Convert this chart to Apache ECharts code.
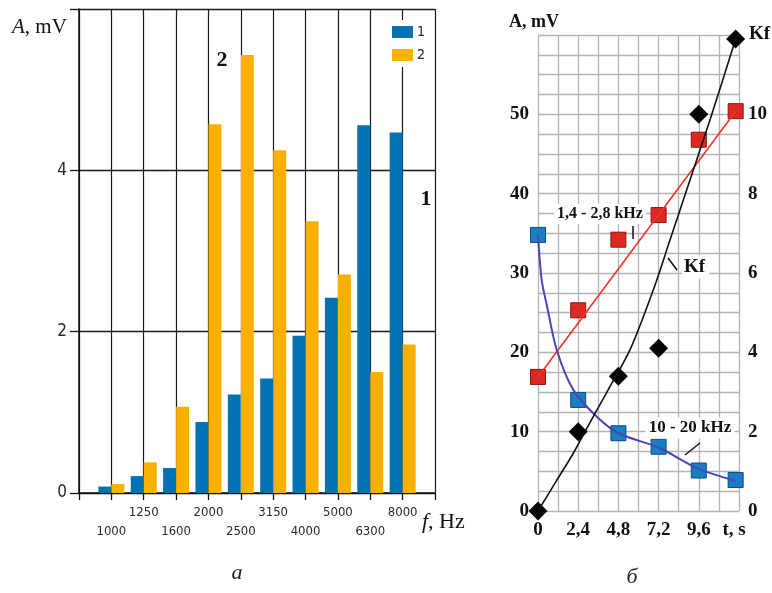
<!DOCTYPE html>
<html>
<head>
<meta charset="utf-8">
<script src="https://cdn.jsdelivr.net/npm/echarts@6/dist/echarts.min.js"></script>
<style>
  html, body { margin: 0; padding: 0; background: #fff; }
  #chart { width: 772px; height: 593px; }
</style>
</head>
<body>
<div id="chart"></div>
<script>
// ---- Panel a: spectrum amplitude per 1/3-octave band ----
const freqLabels = ['1000', '1250', '1600', '2000', '2500', '3150', '4000', '5000', '6300', '8000'];
const spectrum1 = [0.08, 0.21, 0.31, 0.88, 1.22, 1.42, 1.95, 2.42, 4.56, 4.47];
const spectrum2 = [0.11, 0.38, 1.07, 4.57, 5.43, 4.25, 3.37, 2.71, 1.50, 1.84];
const ampTickLabels = [0, 2, 4];

// ---- Panel б: amplitude and Kf versus time ----
const tTicks = [0, 2.4, 4.8, 7.2, 9.6];
const tTickLabels = ['0', '2,4', '4,8', '7,2', '9,6'];
const tPoints = [0, 2.4, 4.8, 7.2, 9.6, 11.8];
const lowBandA = [16.9, 25.3, 34.2, 37.3, 46.8, 50.4];   // 1,4 - 2,8 kHz
const highBandA = [34.8, 14.0, 9.8, 8.1, 5.1, 3.9];      // 10 - 20 kHz
const kfValues = [0, 2.0, 3.4, 4.1, 10.0, 11.9];
const lowBandFit = [[0, 16.9], [11.8, 50.4]];
const highBandCurve = [[0, 34.8], [0.22, 29.1], [0.52, 26.0], [1.12, 20.3], [2.1, 15.3],
  [3.5, 11.9], [4.8, 9.8], [7.2, 8.0], [9.6, 5.3], [11.8, 3.8]];
const kfCurve = [[0, 0], [1.07, 0.74], [2.1, 1.45], [3.1, 2.23], [4.18, 3.05], [5.49, 4.06],
  [6.88, 5.57], [7.88, 6.83], [8.88, 8.1], [10.3, 9.9], [11.8, 11.9]];
const aTickLabels = [0, 10, 20, 30, 40, 50];
const kfTickLabels = [0, 2, 4, 6, 8, 10];

const narrow = "'Liberation Sans Narrow','Arial Narrow','DejaVu Sans Condensed','Liberation Sans',sans-serif";
const serif = "'Liberation Serif','Times New Roman',serif";
const blue = '#0272b3';
const orange = '#f9b002';
const gridGray = '#b3b3b3';

const chart = echarts.init(document.getElementById('chart'), null, { renderer: 'canvas' });

const boldSerifLabel = { fontFamily: serif, fontWeight: 'bold', fontSize: 19, color: '#111' };

chart.setOption({
  animation: false,
  backgroundColor: '#fff',
  grid: [
    { left: 79, top: 9, width: 356, height: 484 },
    { left: 538, top: 35, width: 201, height: 476 }
  ],
  legend: {
    data: ['1', '2'],
    orient: 'vertical',
    left: 388,
    top: 20,
    itemWidth: 21,
    itemHeight: 12,
    itemGap: 9,
    icon: 'rect',
    backgroundColor: '#fff',
    padding: [5, 6, 5, 4],
    textStyle: { fontFamily: narrow, fontSize: 14, color: '#2b2430', padding: [0, 0, 0, -1] }
  },
  xAxis: [
    {
      gridIndex: 0, type: 'value', min: 0, max: 11, interval: 1,
      axisLine: { show: true, lineStyle: { color: '#111', width: 1.5 } },
      axisTick: { show: true, length: 7, lineStyle: { color: '#111', width: 1.3 } },
      splitLine: { show: true, lineStyle: { color: '#1a1a1a', width: 1.2 } },
      axisLabel: {
        margin: 10,
        formatter: function (v) {
          const i = Math.round(v) - 1;
          if (i < 0 || i >= freqLabels.length) return '';
          return i % 2 === 1 ? '{u|' + freqLabels[i] + '}' : '{l|' + freqLabels[i] + '}';
        },
        rich: {
          u: { fontFamily: narrow, fontSize: 13, color: '#2e2536', lineHeight: 19 },
          l: { fontFamily: narrow, fontSize: 13, color: '#2e2536', lineHeight: 57 }
        }
      }
    },
    {
      gridIndex: 1, type: 'value', min: 0, max: 12, interval: 1.2,
      axisLine: { show: false },
      axisTick: { show: false },
      splitLine: { show: true, lineStyle: { color: gridGray, width: 1.3 } },
      axisLabel: Object.assign({
        margin: 10,
        formatter: function (v) {
          for (let k = 0; k < tTicks.length; k++) {
            if (Math.abs(v - tTicks[k]) < 1e-6) return tTickLabels[k];
          }
          return '';
        }
      }, boldSerifLabel)
    }
  ],
  yAxis: [
    {
      gridIndex: 0, type: 'value', min: 0, max: 6, interval: 2,
      axisLine: { show: true, lineStyle: { color: '#111', width: 1.5 } },
      axisTick: { show: true, length: 9, lineStyle: { color: '#111', width: 1.3 } },
      splitLine: { show: true, lineStyle: { color: '#1a1a1a', width: 1.3 } },
      axisLabel: {
        margin: 12, fontFamily: narrow, fontSize: 17, color: '#2e2536',
        formatter: function (v) { return ampTickLabels.indexOf(v) >= 0 ? String(v) : ''; }
      }
    },
    {
      gridIndex: 1, type: 'value', min: 0, max: 60, interval: 2.5,
      axisLine: { show: false },
      axisTick: { show: false },
      splitLine: { show: true, lineStyle: { color: gridGray, width: 1.3 } },
      axisLabel: Object.assign({
        margin: 9,
        formatter: function (v) { return aTickLabels.indexOf(v) >= 0 ? String(v) : ''; }
      }, boldSerifLabel)
    },
    {
      gridIndex: 1, type: 'value', position: 'right', min: 0, max: 12, interval: 2,
      axisLine: { show: false },
      axisTick: { show: false },
      splitLine: { show: false },
      axisLabel: Object.assign({
        margin: 9,
        formatter: function (v) { return kfTickLabels.indexOf(v) >= 0 ? String(v) : ''; }
      }, boldSerifLabel)
    }
  ],
  series: [
    {
      name: '1', type: 'bar', xAxisIndex: 0, yAxisIndex: 0,
      barWidth: 13, barGap: '0%',
      itemStyle: { color: blue },
      data: spectrum1.map(function (v, i) { return [i + 1, v]; })
    },
    {
      name: '2', type: 'bar', xAxisIndex: 0, yAxisIndex: 0,
      barWidth: 13, barGap: '0%',
      itemStyle: { color: orange },
      data: spectrum2.map(function (v, i) { return [i + 1, v]; })
    },
    {
      name: 'fit-low', type: 'line', xAxisIndex: 1, yAxisIndex: 1,
      symbol: 'none', lineStyle: { color: '#ef3429', width: 1.6 },
      data: lowBandFit
    },
    {
      name: 'fit-high', type: 'line', xAxisIndex: 1, yAxisIndex: 1,
      symbol: 'none', smooth: 0.3,
      lineStyle: { color: '#4b45b5', width: 2 },
      data: highBandCurve
    },
    {
      name: 'fit-kf', type: 'line', xAxisIndex: 1, yAxisIndex: 2,
      symbol: 'none', smooth: 0.3,
      lineStyle: { color: '#111', width: 1.6 },
      data: kfCurve
    },
    {
      name: 'low', type: 'scatter', xAxisIndex: 1, yAxisIndex: 1,
      symbol: 'rect', symbolSize: 15,
      itemStyle: { color: '#dc2a22', borderColor: '#8a1510', borderWidth: 1, opacity: 1 },
      data: tPoints.map(function (t, i) { return [t, lowBandA[i]]; })
    },
    {
      name: 'high', type: 'scatter', xAxisIndex: 1, yAxisIndex: 1,
      symbol: 'rect', symbolSize: 15,
      itemStyle: { color: '#1b7dc2', borderColor: '#0e4a7a', borderWidth: 1, opacity: 1 },
      data: tPoints.map(function (t, i) { return [t, highBandA[i]]; })
    },
    {
      name: 'kf', type: 'scatter', xAxisIndex: 1, yAxisIndex: 2,
      symbol: 'diamond', symbolSize: 19,
      itemStyle: { color: '#050505', opacity: 1 },
      data: tPoints.map(function (t, i) { return [t, kfValues[i]]; })
    }
  ],
  graphic: [
    // panel a titles
    { type: 'text', z: 100, style: { x: 12, y: 27, verticalAlign: 'middle',
      text: '{i|A}{n|, mV}',
      rich: { i: { font: 'italic 21px ' + serif, fill: '#111' }, n: { font: '21px ' + serif, fill: '#111' } } } },
    { type: 'text', z: 100, style: { x: 422, y: 522, verticalAlign: 'middle',
      text: '{i|f}{n|, Hz}',
      rich: { i: { font: 'italic 22px ' + serif, fill: '#111' }, n: { font: '22px ' + serif, fill: '#111' } } } },
    { type: 'text', z: 100, style: { x: 222, y: 60, align: 'center', verticalAlign: 'middle',
      text: '2', font: 'bold 22px ' + serif, fill: '#111' } },
    { type: 'text', z: 100, style: { x: 426, y: 199, align: 'center', verticalAlign: 'middle',
      text: '1', font: 'bold 22px ' + serif, fill: '#111' } },
    { type: 'text', z: 100, style: { x: 237, y: 573, align: 'center', verticalAlign: 'middle',
      text: 'а', font: 'italic 22px ' + serif, fill: '#222' } },
    // panel б titles and annotations
    { type: 'text', z: 100, style: { x: 534, y: 22, align: 'center', verticalAlign: 'middle',
      text: 'A, mV', font: 'bold 18px ' + serif, fill: '#111' } },
    { type: 'text', z: 100, style: { x: 749, y: 34, align: 'left', verticalAlign: 'middle',
      text: 'Kf', font: 'bold 19px ' + serif, fill: '#111' } },
    { type: 'text', z: 100, style: { x: 734, y: 530, align: 'center', verticalAlign: 'middle',
      text: 't, s', font: 'bold 19px ' + serif, fill: '#111' } },
    { type: 'text', z: 100, style: { x: 600, y: 214, align: 'center', verticalAlign: 'middle',
      text: '1,4 - 2,8 kHz', font: 'bold 16px ' + serif, fill: '#111',
      backgroundColor: '#fff', padding: [2, 3, 2, 3] } },
    { type: 'line', z: 100, shape: { x1: 633, y1: 226, x2: 633, y2: 239 }, style: { stroke: '#111', lineWidth: 1.5 } },
    { type: 'text', z: 100, style: { x: 682, y: 267, align: 'left', verticalAlign: 'middle',
      text: 'Kf', font: 'bold 19px ' + serif, fill: '#111',
      backgroundColor: '#fff', padding: [2, 4, 2, 2] } },
    { type: 'line', z: 100, shape: { x1: 668, y1: 258, x2: 677, y2: 270 }, style: { stroke: '#111', lineWidth: 1.5 } },
    { type: 'text', z: 100, style: { x: 690, y: 428, align: 'center', verticalAlign: 'middle',
      text: '10 - 20 kHz', font: 'bold 17px ' + serif, fill: '#111',
      backgroundColor: '#fff', padding: [2, 3, 2, 3] } },
    { type: 'line', z: 100, shape: { x1: 685, y1: 455, x2: 700, y2: 443 }, style: { stroke: '#111', lineWidth: 1.5 } },
    { type: 'text', z: 100, style: { x: 632, y: 577, align: 'center', verticalAlign: 'middle',
      text: 'б', font: 'italic 22px ' + serif, fill: '#222' } }
  ]
});
</script>
</body>
</html>
